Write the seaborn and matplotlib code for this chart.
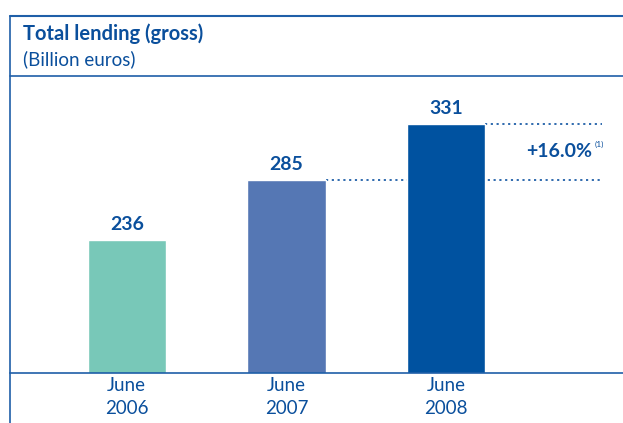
import matplotlib
matplotlib.use("Agg")
import matplotlib.pyplot as plt
from matplotlib.lines import Line2D
import seaborn as sns
import pandas as pd

sns.set_theme(style='white')
plt.rcParams['font.family'] = ['Lato', 'DejaVu Sans']

# data
periods = ["June\n2006", "June\n2007", "June\n2008"]
lending = [236, 285, 331]
bar_colors = ["#78c8b8", "#5577b4", "#0052a0"]
growth_label = "+16.0%"

dark_blue = "#0a4f9c"
line_blue = "#1f5fa8"

df = pd.DataFrame({"period": periods, "lending": lending})

fig = plt.figure(figsize=(6.23, 4.23), dpi=100)
ax = fig.add_axes([10 / 623, 50 / 423, 613 / 623, 297 / 423])

sns.barplot(data=df, x="period", y="lending", hue="period", palette=bar_colors,
            width=0.49, legend=False, saturation=1, ax=ax)

ax.set_ylim(126.9, 370.5)
ax.set_xlim(-0.731, 3.106)
ax.set_xlabel("")
ax.set_ylabel("")
ax.set_yticks([])

for c in ax.containers:
    ax.bar_label(c, fmt="%d", padding=5, fontsize=14, fontweight="bold", color=dark_blue)

ax.tick_params(axis="x", length=0, pad=3, labelsize=13.5, labelcolor=dark_blue)
for lbl in ax.get_xticklabels():
    lbl.set_linespacing(1.4)

for s in ["top", "right", "left"]:
    ax.spines[s].set_visible(False)
ax.spines["bottom"].set_color(line_blue)
ax.spines["bottom"].set_linewidth(1.2)

# dotted reference lines for the change
ax.plot([1.245, 2.975], [lending[1], lending[1]], ls=(0, (1.2, 2.0)), lw=1.3, color=line_blue, zorder=0)
ax.plot([2.245, 2.975], [lending[2], lending[2]], ls=(0, (1.2, 2.0)), lw=1.3, color=line_blue, zorder=0)
ax.text(2.91, (lending[1] + lending[2]) / 2 + 0.5, growth_label, ha="right", va="center",
        fontsize=14, fontweight="bold", color=dark_blue)
ax.text(2.93, (lending[1] + lending[2]) / 2 + 6, "(1)", ha="left", va="center",
        fontsize=6, color=dark_blue)

# frame and header
fig.add_artist(Line2D([10 / 623, 1], [1 - 16 / 423, 1 - 16 / 423], color=line_blue, lw=1.5))
fig.add_artist(Line2D([10 / 623, 10 / 623], [0, 1 - 16 / 423], color=line_blue, lw=1.2))
fig.add_artist(Line2D([10 / 623, 1], [1 - 76 / 423, 1 - 76 / 423], color=line_blue, lw=1.2))
fig.text(23 / 623, 1 - 34 / 423, "Total lending (gross)", ha="left", va="center",
         fontsize=14.5, fontweight="bold", color=dark_blue)
fig.text(23 / 623, 1 - 59 / 423, "(Billion euros)", ha="left", va="center",
         fontsize=13.5, color=dark_blue)

fig.savefig("out.png", dpi=100)
